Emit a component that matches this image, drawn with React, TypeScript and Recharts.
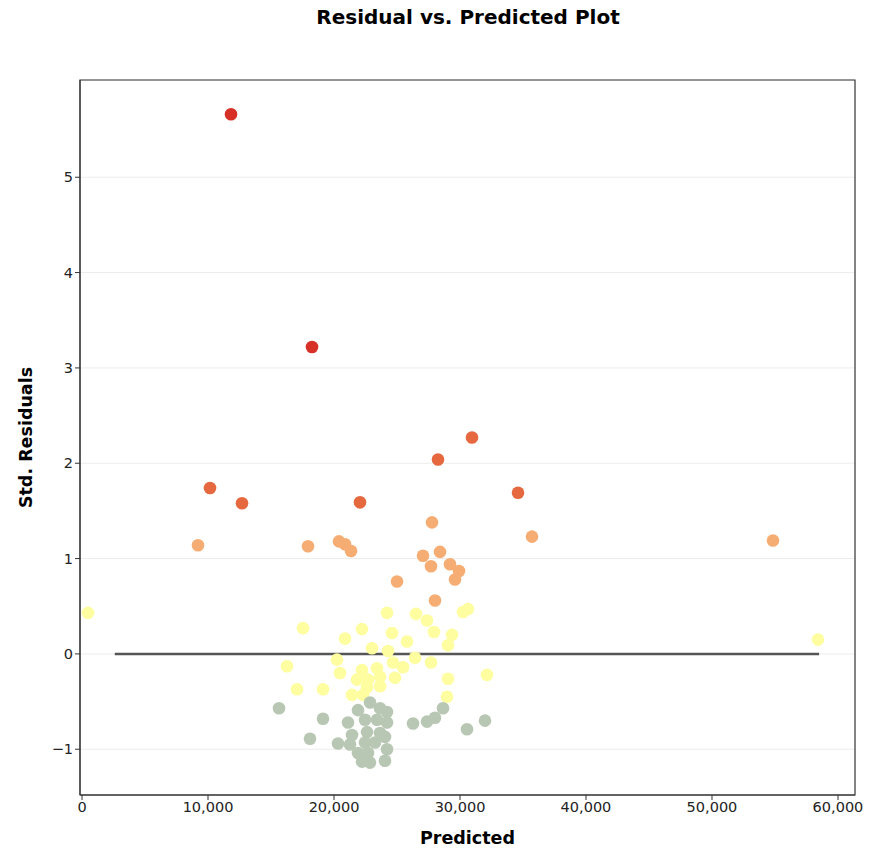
import React from "react";
import {
  ScatterChart,
  Scatter,
  XAxis,
  YAxis,
  CartesianGrid,
  ReferenceLine,
  ReferenceArea,
} from "recharts";

// [predicted, std residual] per colour band
const redPts = [
  [11825, 5.66],
  [18254, 3.22],
];
const darkOrangePts = [
  [30952, 2.27],
  [28254, 2.04],
  [10159, 1.74],
  [12698, 1.58],
  [22063, 1.59],
  [34603, 1.69],
];
const lightOrangePts = [
  [9206, 1.14],
  [17937, 1.13],
  [20397, 1.18],
  [20873, 1.15],
  [21349, 1.08],
  [27778, 1.38],
  [27063, 1.03],
  [28413, 1.07],
  [27698, 0.92],
  [29206, 0.94],
  [29921, 0.87],
  [29603, 0.78],
  [25000, 0.76],
  [28016, 0.56],
  [35714, 1.23],
  [54841, 1.19],
];
const yellowPts = [
  [476, 0.43],
  [17540, 0.27],
  [16270, -0.13],
  [17063, -0.37],
  [19127, -0.37],
  [20873, 0.16],
  [22222, 0.26],
  [24206, 0.43],
  [26508, 0.42],
  [27381, 0.35],
  [27937, 0.23],
  [29365, 0.2],
  [29048, 0.09],
  [30238, 0.44],
  [30635, 0.47],
  [24603, 0.22],
  [25794, 0.13],
  [23016, 0.06],
  [24286, 0.03],
  [20238, -0.06],
  [20476, -0.2],
  [22222, -0.17],
  [23413, -0.15],
  [24683, -0.09],
  [25476, -0.14],
  [26429, -0.04],
  [27698, -0.09],
  [21825, -0.27],
  [22698, -0.27],
  [23651, -0.24],
  [24841, -0.25],
  [22619, -0.35],
  [23651, -0.34],
  [21429, -0.43],
  [22302, -0.43],
  [29048, -0.26],
  [32143, -0.22],
  [28968, -0.45],
  [58413, 0.15],
];
const greyPts = [
  [15635, -0.57],
  [19127, -0.68],
  [18095, -0.89],
  [22857, -0.51],
  [21905, -0.59],
  [23651, -0.57],
  [24206, -0.61],
  [21111, -0.72],
  [22460, -0.69],
  [23413, -0.69],
  [24206, -0.72],
  [21429, -0.85],
  [22619, -0.82],
  [23651, -0.83],
  [24048, -0.87],
  [20317, -0.94],
  [21270, -0.95],
  [22460, -0.93],
  [23254, -0.93],
  [24206, -1.0],
  [21905, -1.04],
  [22698, -1.04],
  [22222, -1.13],
  [22857, -1.14],
  [24048, -1.12],
  [26270, -0.73],
  [27381, -0.71],
  [28016, -0.67],
  [28651, -0.57],
  [30556, -0.79],
  [31984, -0.7],
];

const xTicks = [0, 10000, 20000, 30000, 40000, 50000, 60000];
const yTicks = [-1, 0, 1, 2, 3, 4, 5];
const zeroLine = [2600, 58500];

const xDomain = [-160, 61350];
const yDomain = [-1.48, 6.02];

const toRows = (pts: number[][]) => pts.map(([x, y]) => ({ x, y }));

const groups = [
  { name: "red", pts: redPts, color: "#d73027" },
  { name: "darkOrange", pts: darkOrangePts, color: "#e5683f" },
  { name: "lightOrange", pts: lightOrangePts, color: "#f6ad74" },
  { name: "yellow", pts: yellowPts, color: "#fefd9f" },
  { name: "grey", pts: greyPts, color: "#b8c7b3" },
];

const font = "'DejaVu Sans', Verdana, sans-serif";

const dot = (color: string) => (props: any) => (
  <circle cx={props.cx} cy={props.cy} r={6.3} fill={color} />
);

export default function App() {
  return (
    <div
      style={{
        position: "absolute",
        left: 0,
        top: 0,
        width: 871,
        height: 852,
        background: "#fff",
        fontFamily: font,
      }}
    >
      <div
        style={{
          position: "absolute",
          top: 5,
          left: 0,
          width: 936,
          textAlign: "center",
          fontWeight: "bold",
          fontSize: 20,
          color: "#000",
        }}
      >
        Residual vs. Predicted Plot
      </div>
      <ScatterChart
        width={871}
        height={852}
        margin={{ top: 80, right: 16, bottom: 8, left: 30 }}
      >
        <CartesianGrid vertical={false} stroke="#ececec" />
        <XAxis
          type="number"
          dataKey="x"
          domain={xDomain}
          ticks={xTicks}
          allowDataOverflow
          height={49}
          tickFormatter={(v: number) => v.toLocaleString("en-US")}
          tick={{ fill: "#222", fontSize: 14.5, fontFamily: font }}
          tickLine={{ stroke: "#333" }}
          axisLine={{ stroke: "#333" }}
          tickSize={5}
          label={{
            value: "Predicted",
            position: "insideBottom",
            offset: 0,
            style: { fontWeight: "bold", fontSize: 17.5, fill: "#000", fontFamily: font },
          }}
        />
        <YAxis
          type="number"
          dataKey="y"
          domain={yDomain}
          ticks={yTicks}
          allowDataOverflow
          width={50}
          tickFormatter={(v: number) => (v < 0 ? `\u2212${Math.abs(v)}` : `${v}`)}
          tick={{ fill: "#222", fontSize: 14.5, fontFamily: font }}
          tickLine={{ stroke: "#333" }}
          axisLine={{ stroke: "#333" }}
          tickSize={5}
          label={{
            value: "Std. Residuals",
            angle: -90,
            position: "insideLeft",
            offset: -4,
            style: {
              fontWeight: "bold",
              fontSize: 17.5,
              fill: "#000",
              fontFamily: font,
              textAnchor: "middle",
            },
          }}
        />
        <ReferenceArea
          x1={xDomain[0]}
          x2={xDomain[1]}
          y1={yDomain[0]}
          y2={yDomain[1]}
          fill="none"
          stroke="#333"
          strokeWidth={1.2}
          fillOpacity={0}
        />
        {groups.map((g) => (
          <Scatter
            key={g.name}
            name={g.name}
            data={toRows(g.pts)}
            fill={g.color}
            shape={dot(g.color)}
            isAnimationActive={false}
          />
        ))}
        <ReferenceLine
          segment={[
            { x: zeroLine[0], y: 0 },
            { x: zeroLine[1], y: 0 },
          ]}
          stroke="#555"
          strokeWidth={2.5}
        />
      </ScatterChart>
    </div>
  );
}
